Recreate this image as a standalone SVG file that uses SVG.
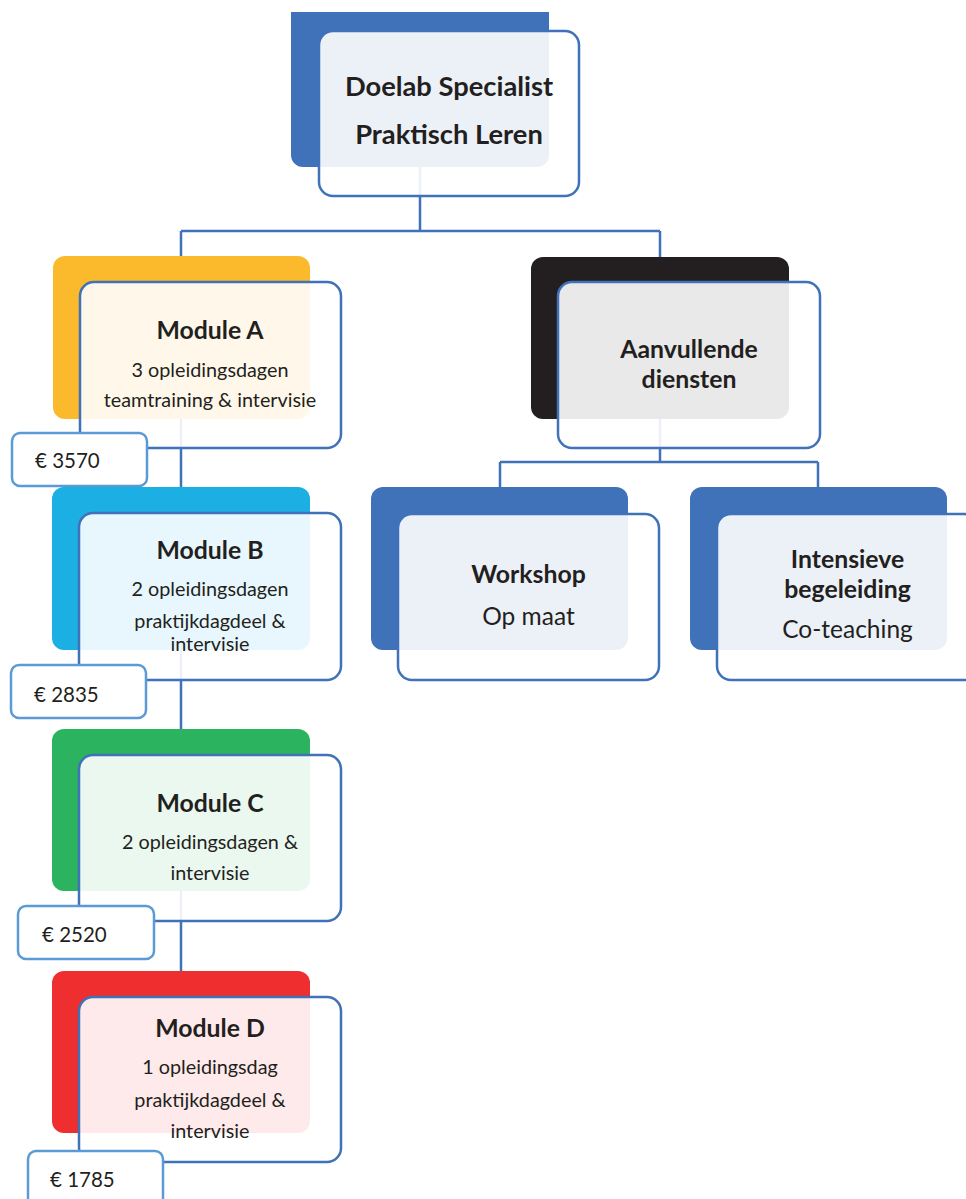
<svg xmlns="http://www.w3.org/2000/svg" width="966" height="1199" viewBox="0 0 966 1199">
<style>
.back{stroke:none}
.front{fill:#ffffff;fill-opacity:0.9;stroke:#3F72B8;stroke-width:2.5}
.price{fill:#ffffff;stroke:#5B9BD5;stroke-width:2.5}
.conn{fill:none;stroke:#3F72B8;stroke-width:2.5}
text{font-family:Lato,"Open Sans","Liberation Sans",sans-serif;fill:#231F20}
.t0{font-size:27.3px;font-weight:bold;text-anchor:middle}
.t1{font-size:24.8px;font-weight:bold;text-anchor:middle}
.t2{font-size:19.8px;text-anchor:middle}
.t3{font-size:24.5px;text-anchor:middle}
.pt{font-size:20.5px}
</style>
<defs>
<clipPath id="topclip"><rect x="0" y="12" width="966" height="1187"/></clipPath>
</defs>
<rect width="966" height="1199" fill="#ffffff"/>
<g id="connectors">
<path class="conn" d="M420,167 V231 M181,231 H660 M181,231 V256 M660,231 V257"/>
<path class="conn" d="M181,419 V488 M181,650 V729 M181,890 V971"/>
<path class="conn" d="M660,419 V462 M500,462 H818 M500,462 V488 M818,462 V488"/>
</g>
<g id="node-root">
<rect class="back" x="291" y="0" width="258" height="167" rx="12" fill="#3F72B8" clip-path="url(#topclip)"/>
<rect class="front" x="319" y="31" width="260" height="165" rx="14"/>
<text class="t0" x="449" y="96">Doelab Specialist</text>
<text class="t0" x="449" y="144">Praktisch Leren</text>
</g>
<g id="node-module-a">
<rect class="back" x="53" y="256" width="257" height="163" rx="12" fill="#FBBA2B"/>
<rect class="front" x="80" y="282" width="261" height="166" rx="14"/>
<text class="t1" x="210" y="339">Module A</text>
<text class="t2" x="210" y="377">3 opleidingsdagen</text>
<text class="t2" x="210" y="407">teamtraining &amp; intervisie</text>
</g>
<g id="price-a">
<rect class="price" x="12" y="433" width="135" height="53" rx="8"/>
<text class="pt" x="35" y="468">€ 3570</text>
</g>
<g id="node-module-b">
<rect class="back" x="52" y="487" width="258" height="163" rx="12" fill="#1BAFE4"/>
<rect class="front" x="79" y="513" width="262" height="167" rx="14"/>
<text class="t1" x="210" y="559">Module B</text>
<text class="t2" x="210" y="596">2 opleidingsdagen</text>
<text class="t2" x="210" y="628">praktijkdagdeel &amp;</text>
<text class="t2" x="210" y="651">intervisie</text>
</g>
<g id="price-b">
<rect class="price" x="11" y="665" width="135" height="53" rx="8"/>
<text class="pt" x="34" y="702">€ 2835</text>
</g>
<g id="node-module-c">
<rect class="back" x="52" y="729" width="258" height="162" rx="12" fill="#2BB35F"/>
<rect class="front" x="79" y="755" width="262" height="166" rx="14"/>
<text class="t1" x="210" y="812">Module C</text>
<text class="t2" x="210" y="849">2 opleidingsdagen &amp;</text>
<text class="t2" x="210" y="880">intervisie</text>
</g>
<g id="price-c">
<rect class="price" x="18" y="906" width="136" height="53" rx="8"/>
<text class="pt" x="42" y="942">€ 2520</text>
</g>
<g id="node-module-d">
<rect class="back" x="52" y="971" width="258" height="162" rx="12" fill="#EE2E2F"/>
<rect class="front" x="79" y="997" width="262" height="165" rx="14"/>
<text class="t1" x="210" y="1037">Module D</text>
<text class="t2" x="210" y="1074">1 opleidingsdag</text>
<text class="t2" x="210" y="1107">praktijkdagdeel &amp;</text>
<text class="t2" x="210" y="1138">intervisie</text>
</g>
<g id="price-d">
<rect class="price" x="28" y="1151" width="135" height="60" rx="8"/>
<text class="pt" x="50" y="1187">€ 1785</text>
</g>
<g id="node-aanvullende">
<rect class="back" x="531" y="257" width="258" height="162" rx="12" fill="#231F20"/>
<rect class="front" x="558" y="282" width="262" height="166" rx="14"/>
<text class="t1" x="689" y="358">Aanvullende</text>
<text class="t1" x="689" y="388">diensten</text>
</g>
<g id="node-workshop">
<rect class="back" x="371" y="487" width="257" height="163" rx="12" fill="#3F72B8"/>
<rect class="front" x="398" y="514" width="261" height="166" rx="14"/>
<text class="t1" x="528.5" y="583">Workshop</text>
<text class="t3" x="528.5" y="625">Op maat</text>
</g>
<g id="node-intensieve">
<rect class="back" x="690" y="487" width="257" height="163" rx="12" fill="#3F72B8"/>
<rect class="front" x="717" y="514" width="261" height="166" rx="14"/>
<text class="t1" x="847.5" y="568">Intensieve</text>
<text class="t1" x="847.5" y="598">begeleiding</text>
<text class="t3" x="847.5" y="638">Co-teaching</text>
</g>
</svg>
